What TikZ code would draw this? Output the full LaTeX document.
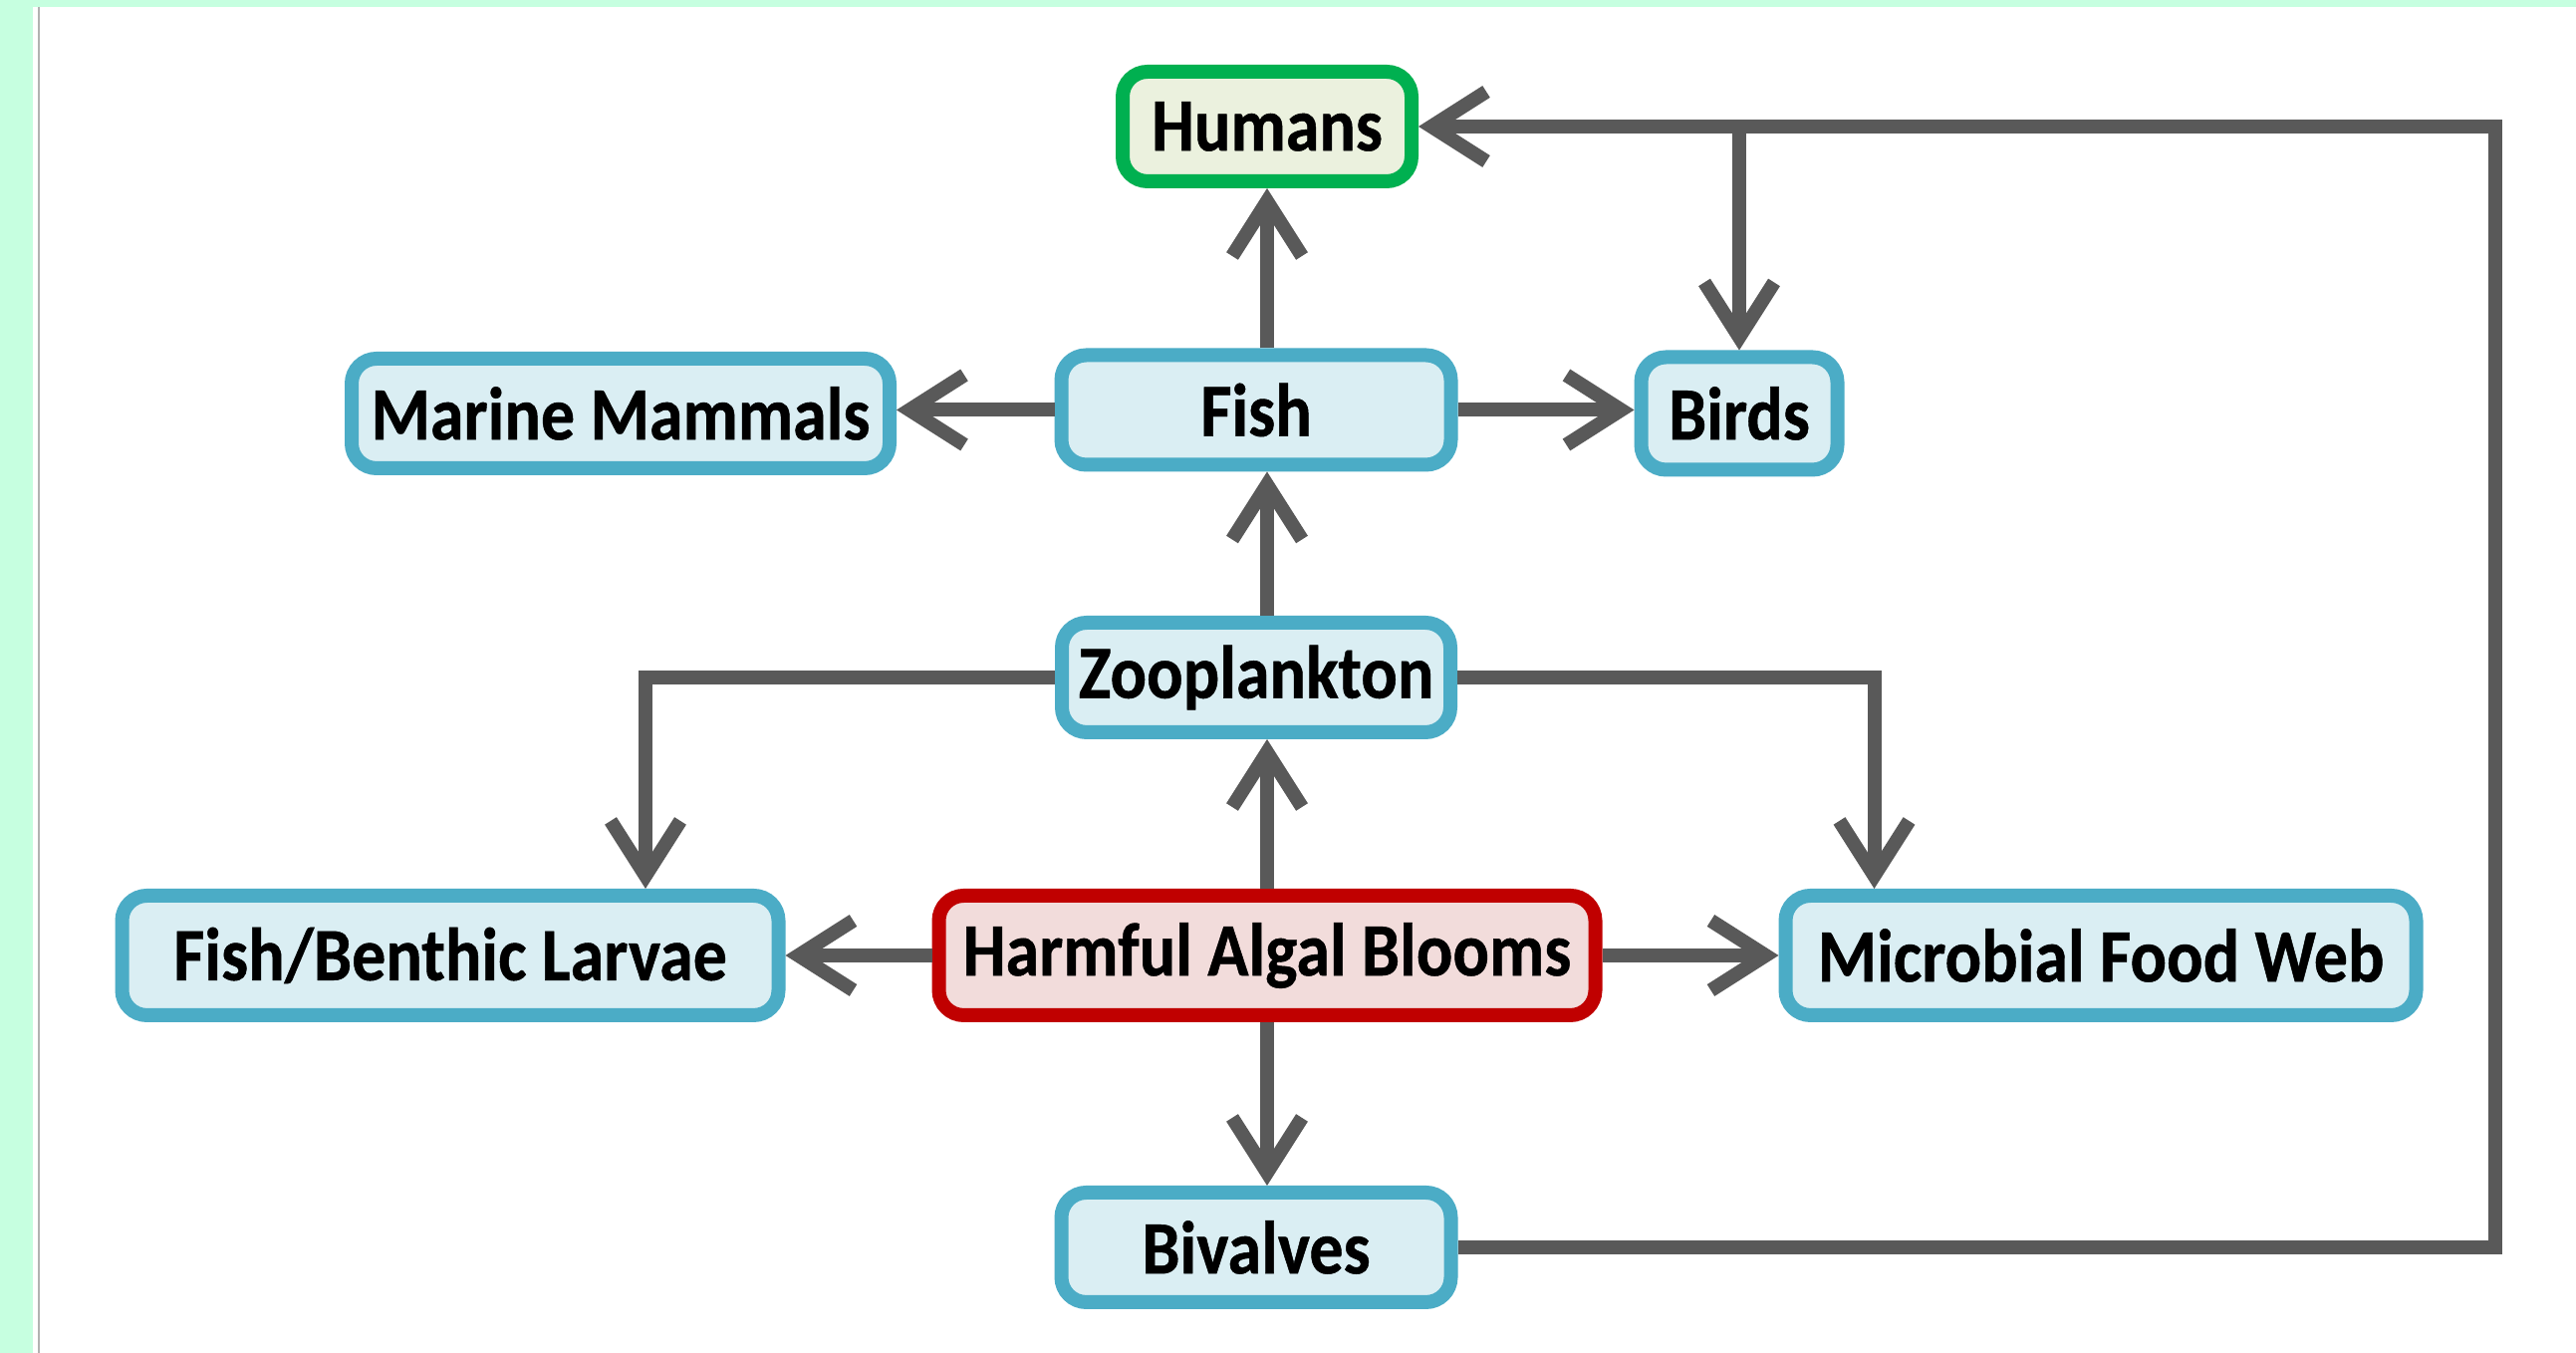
\documentclass[tikz,border=0pt]{standalone}
\usepackage{fontspec}
\setmainfont{Carlito}[FakeStretch=0.9, FakeBold=0.6]
\usepackage{xcolor}
\definecolor{mymint}{RGB}{198,255,224}
\definecolor{myframe}{gray}{.7}
\definecolor{myblue}{RGB}{75,172,198}
\definecolor{mylightblue}{RGB}{218,238,243}
\definecolor{mygreen}{RGB}{0,176,80}
\definecolor{mylightgreen}{RGB}{235,241,222}
\definecolor{myred}{RGB}{192,0,0}
\definecolor{mylightred}{RGB}{242,220,219}
\definecolor{mygray}{RGB}{89,89,89}
\usepackage{tikz}
\usetikzlibrary{arrows.meta}
\newcommand{\heightbox}{1.1cm}
\newcommand{\heightwide}{1.2cm}
\tikzset{
    common/.style={draw, rectangle, rounded corners=2.5mm, line width=1.4mm, inner sep=0pt,
        minimum height=\heightbox, font=\bfseries\fontsize{21.5}{26}\selectfont},
    organism/.style={common, draw=myblue, fill=mylightblue},
    people/.style={common, draw=mygreen, fill=mylightgreen},
    bloom/.style={common, draw=myred, fill=mylightred},
    flow/.style={draw=mygray, line width=1.4mm, -{Straight Barb[length=5.5mm, width=7mm]}}
}
\begin{document}
\begin{tikzpicture}
    \useasboundingbox (0,0) rectangle (25.86,13.58);
    \fill[mymint] (0,0) rectangle (25.86,13.58);
    \fill[white] (0.33,0) rectangle (25.86,13.51);
    \draw[myframe, line width=0.25mm] (0.39,0) -- (0.39,13.51);

    \node[people, minimum width=2.9cm] (humans) at (12.72,12.31) {Humans};
    \node[organism, minimum width=5.4cm] (mammals) at (6.23,9.43) {Marine Mammals};
    \node[organism, minimum width=3.91cm] (fish) at (12.61,9.465) {Fish};
    \node[organism, minimum width=1.97cm, minimum height=1.13cm] (birds) at (17.46,9.43) {Birds};
    \node[organism, minimum width=3.9cm] (zoo) at (12.61,6.78) {Zooplankton};
    \node[organism, minimum width=6.59cm, minimum height=\heightwide] (larvae) at (4.52,3.99) {Fish/Benthic Larvae};
    \node[bloom, minimum width=6.59cm, minimum height=\heightwide] (hab) at (12.72,3.99) {Harmful Algal Blooms};
    \node[organism, minimum width=6.33cm, minimum height=\heightwide] (microbial) at (21.09,3.99) {Microbial Food Web};
    \node[organism, minimum width=3.91cm] (bivalves) at (12.61,1.06) {Bivalves};

    \coordinate (loopturn) at (25.05,12.31);

    \draw[flow] (fish.north -| humans) -- (humans.south);
    \draw[flow] (zoo.north -| humans) -- (fish.south -| humans);
    \draw[flow] (fish.west) -- (fish.west -| mammals.east);
    \draw[flow] (fish.east) -- (fish.east -| birds.west);
    \draw[flow] (hab.north) -- (zoo.south -| hab);
    \draw[flow] (hab.south) -- (bivalves.north -| hab);
    \draw[flow] (hab.west) -- (larvae.east);
    \draw[flow] (hab.east) -- (microbial.west);
    \draw[flow] (zoo.west) -| ([xshift=1.96cm]larvae.north);
    \draw[flow] (zoo.east) -| ([xshift=0.96cm]microbial.north west);
    \draw[flow] (bivalves.east) -| (loopturn) -- (humans.east);
    \draw[flow] (humans.east -| birds) -- (birds.north);
\end{tikzpicture}
\end{document}
